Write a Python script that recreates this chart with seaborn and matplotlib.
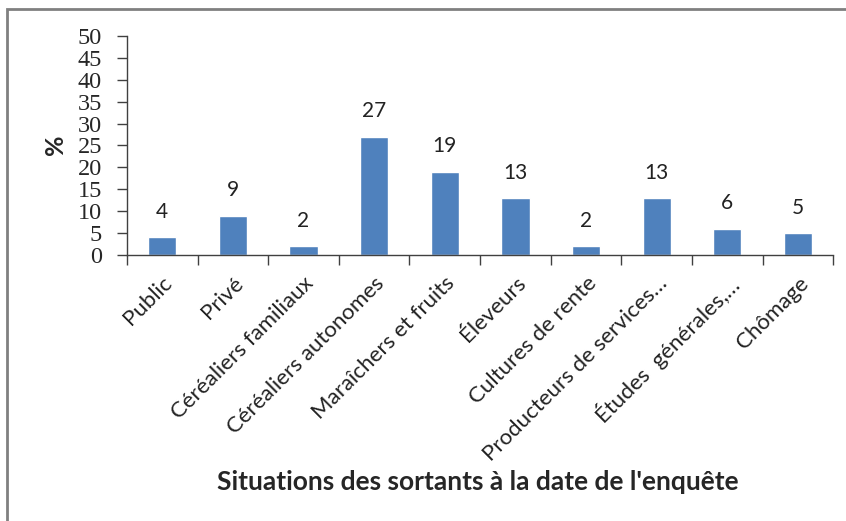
import matplotlib
matplotlib.use('Agg')
import matplotlib.pyplot as plt
import seaborn as sns
import pandas as pd
from matplotlib.patches import Rectangle

categories = ['Public', 'Privé', 'Céréaliers familiaux', 'Céréaliers autonomes',
              'Maraîchers et fruits', 'Éleveurs', 'Cultures de rente',
              'Producteurs de services…', 'Études  générales,…', 'Chômage']
values = [4, 9, 2, 27, 19, 13, 2, 13, 6, 5]

df = pd.DataFrame({'situation': categories, 'pct': values})

sns.set_style('white')
plt.rcParams['font.family'] = ['Lato', 'DejaVu Sans']

fig = plt.figure(figsize=(8.46, 5.21), dpi=100)
ax = fig.add_axes([0.150, 0.5106, 0.835, 0.4204])

sns.barplot(data=df, x='situation', y='pct', color='#4F81BD', width=0.4,
            saturation=1, ax=ax)

for i, v in enumerate(values):
    ax.annotate(str(v), (i, v), xytext=(0, 11), textcoords='offset points',
                ha='center', va='bottom', fontsize=15, color='#222222')

ax.set_ylim(0, 50)
ax.set_xlim(-0.5, len(categories) - 0.5)
ax.set_yticks(range(0, 51, 5))
ax.set_yticklabels([str(t) for t in range(0, 51, 5)],
                   family='Liberation Serif', fontsize=17.5)
ax.set_xticks(range(len(categories)))
ax.set_xticklabels(categories, rotation=45, ha='right', rotation_mode='anchor',
                   fontsize=16, color='#222222')
ax.set_xticks([i - 0.5 for i in range(len(categories) + 1)], minor=True)
ax.tick_params(axis='x', which='major', length=0, pad=13)
ax.tick_params(axis='x', which='minor', length=7, width=1, color='#404040',
               direction='out', bottom=True)
ax.tick_params(axis='y', length=7, width=1, color='#404040', direction='out',
               left=True, pad=11)

for side in ['top', 'right']:
    ax.spines[side].set_visible(False)
for side in ['left', 'bottom']:
    ax.spines[side].set_color('#404040')
    ax.spines[side].set_linewidth(1)

ax.set_ylabel('')
ax.set_xlabel('')
fig.text(55 / 846, 1 - 145 / 521, '%', rotation=90, ha='center', va='center',
         fontsize=18, fontweight='bold')
fig.text(478 / 846, 1 - 482 / 521, "Situations des sortants à la date de l'enquête",
         ha='center', va='center', fontsize=19, fontweight='bold')

fig.patches.append(Rectangle((7 / 846, -0.1), 1.2, 1 - 9 / 521 + 0.1,
                             transform=fig.transFigure, fill=False,
                             edgecolor='#808080', linewidth=2))

fig.savefig('out.png', dpi=100)
